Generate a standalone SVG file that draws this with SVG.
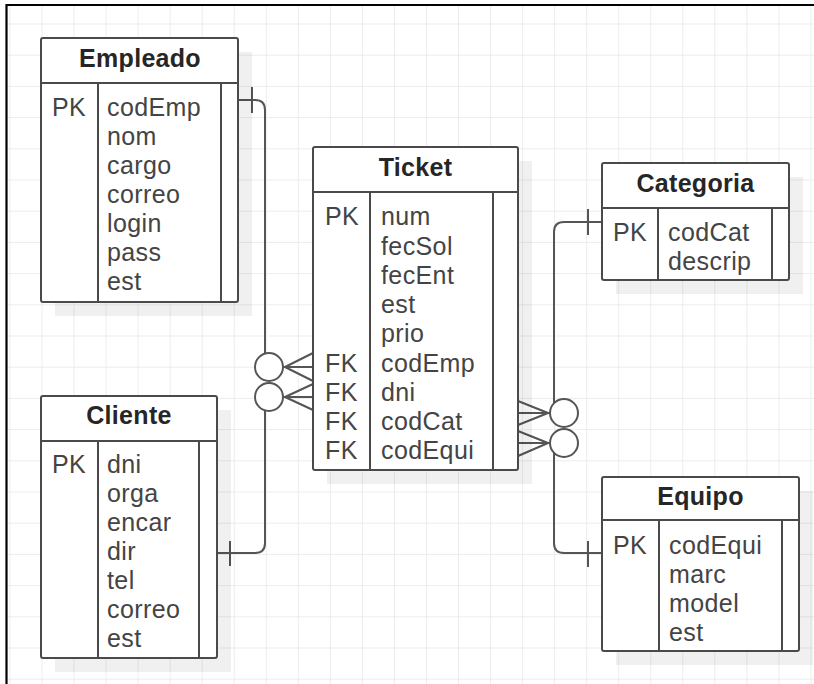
<svg xmlns="http://www.w3.org/2000/svg" width="814" height="684" viewBox="0 0 814 684">
  <defs>
    <style>
      .frame { fill: #ffffff; stroke: #4a4a4a; stroke-width: 2; }
      .shadow { fill: #000000; fill-opacity: 0.06; }
      .div { stroke: #4a4a4a; stroke-width: 2; fill: none; }
      .title { font-family: "Liberation Sans", Arial, sans-serif; font-weight: bold; font-size: 25px; letter-spacing: 0.3px; fill: #262626; text-anchor: middle; }
      .fld { font-family: "Liberation Sans", Arial, sans-serif; font-size: 25px; letter-spacing: 0.4px; fill: #444444; }
      .edge { stroke: #555555; stroke-width: 2; fill: none; }
      .ring { stroke: #555555; stroke-width: 2; fill: #ffffff; }
    </style>
    <pattern id="grid" patternUnits="userSpaceOnUse" x="41.5" y="23.5" width="32.04" height="31.2">
      <path d="M0.5 0 V31.2 M0 0.5 H32.04" stroke="#ececec" stroke-width="1" fill="none"/>
    </pattern>
  </defs>

  <!-- canvas -->
  <rect x="0" y="0" width="814" height="684" fill="#ffffff"/>
  <rect x="6" y="5" width="808" height="679" fill="url(#grid)"/>
  <path d="M6.5 684 V5 H814" stroke="#000000" stroke-width="2.2" fill="none"/>

  <!-- relationships -->
  <g id="connectors">
    <!-- Empleado 1 : N Ticket -->
    <path class="edge" d="M238 100 H255 Q265 100 265 110 V367 H313"/>
    <path class="edge" d="M252 87 V113"/>
    <!-- Cliente 1 : N Ticket -->
    <path class="edge" d="M217 553 H255 Q265 553 265 543 V397 H313"/>
    <path class="edge" d="M230 541 V566"/>
    <!-- Categoria 1 : N Ticket -->
    <path class="edge" d="M602 222 H564 Q554 222 554 232 V413 H518"/>
    <path class="edge" d="M588 209 V235"/>
    <!-- Equipo 1 : N Ticket -->
    <path class="edge" d="M602 553 H564 Q554 553 554 543 V443 H518"/>
    <path class="edge" d="M588 541 V567"/>

    <circle class="ring" cx="269" cy="367" r="14"/>
    <circle class="ring" cx="269" cy="397" r="14"/>
    <circle class="ring" cx="564" cy="413" r="14"/>
    <circle class="ring" cx="564" cy="443" r="14"/>

    <path class="edge" d="M283 367 H313 M285 367 L313 353 M285 367 L313 381"/>
    <path class="edge" d="M283 397 H313 M285 397 L313 384 M285 397 L313 410"/>
    <path class="edge" d="M550 413 H518 M548 413 L518 401 M548 413 L518 425"/>
    <path class="edge" d="M550 443 H518 M548 443 L518 431 M548 443 L518 456"/>
  </g>

  <!-- Empleado -->
  <g id="empleado">
    <rect class="shadow" x="55" y="52" width="197" height="264"/>
    <rect class="frame" x="41" y="38" width="197" height="264" rx="2"/>
    <path class="div" d="M41 83 H238 M98 83 V302 M221 83 V302"/>
    <text class="title" x="140" y="67">Empleado</text>
    <text class="fld" x="52" y="116">PK</text>
    <text class="fld" x="107" y="116">codEmp</text>
    <text class="fld" x="107" y="145">nom</text>
    <text class="fld" x="107" y="174">cargo</text>
    <text class="fld" x="107" y="203">correo</text>
    <text class="fld" x="107" y="232">login</text>
    <text class="fld" x="107" y="261">pass</text>
    <text class="fld" x="107" y="290">est</text>
  </g>

  <!-- Ticket -->
  <g id="ticket">
    <rect class="shadow" x="327" y="161" width="205" height="323"/>
    <rect class="frame" x="313" y="147" width="205" height="323" rx="2"/>
    <path class="div" d="M313 192 H518 M370 192 V470 M493 192 V470"/>
    <text class="title" x="415.5" y="176">Ticket</text>
    <text class="fld" x="325" y="225">PK</text>
    <text class="fld" x="381" y="225">num</text>
    <text class="fld" x="381" y="254.5">fecSol</text>
    <text class="fld" x="381" y="284">fecEnt</text>
    <text class="fld" x="381" y="313">est</text>
    <text class="fld" x="381" y="342">prio</text>
    <text class="fld" x="325" y="371.5">FK</text>
    <text class="fld" x="381" y="371.5">codEmp</text>
    <text class="fld" x="325" y="401">FK</text>
    <text class="fld" x="381" y="401">dni</text>
    <text class="fld" x="325" y="430">FK</text>
    <text class="fld" x="381" y="430">codCat</text>
    <text class="fld" x="325" y="459">FK</text>
    <text class="fld" x="381" y="459">codEqui</text>
  </g>

  <!-- Categoria -->
  <g id="categoria">
    <rect class="shadow" x="616" y="177" width="187" height="117"/>
    <rect class="frame" x="602" y="163" width="187" height="117" rx="2"/>
    <path class="div" d="M602 208 H789 M658 208 V280 M772 208 V280"/>
    <text class="title" x="695.5" y="192">Categoria</text>
    <text class="fld" x="613" y="241">PK</text>
    <text class="fld" x="668" y="241">codCat</text>
    <text class="fld" x="668" y="270">descrip</text>
  </g>

  <!-- Cliente -->
  <g id="cliente">
    <rect class="shadow" x="55" y="410" width="176" height="262"/>
    <rect class="frame" x="41" y="396" width="176" height="262" rx="2"/>
    <path class="div" d="M41 441 H217 M98 441 V658 M199 441 V658"/>
    <text class="title" x="129" y="424">Cliente</text>
    <text class="fld" x="52" y="473">PK</text>
    <text class="fld" x="107" y="473">dni</text>
    <text class="fld" x="107" y="502">orga</text>
    <text class="fld" x="107" y="531">encar</text>
    <text class="fld" x="107" y="560">dir</text>
    <text class="fld" x="107" y="589">tel</text>
    <text class="fld" x="107" y="618">correo</text>
    <text class="fld" x="107" y="647">est</text>
  </g>

  <!-- Equipo -->
  <g id="equipo">
    <rect class="shadow" x="616" y="491" width="197" height="174"/>
    <rect class="frame" x="602" y="477" width="197" height="174" rx="2"/>
    <path class="div" d="M602 520 H799 M659 520 V651 M782 520 V651"/>
    <text class="title" x="700.5" y="505">Equipo</text>
    <text class="fld" x="613" y="554">PK</text>
    <text class="fld" x="669" y="554">codEqui</text>
    <text class="fld" x="669" y="583">marc</text>
    <text class="fld" x="669" y="612">model</text>
    <text class="fld" x="669" y="641">est</text>
  </g>
</svg>
